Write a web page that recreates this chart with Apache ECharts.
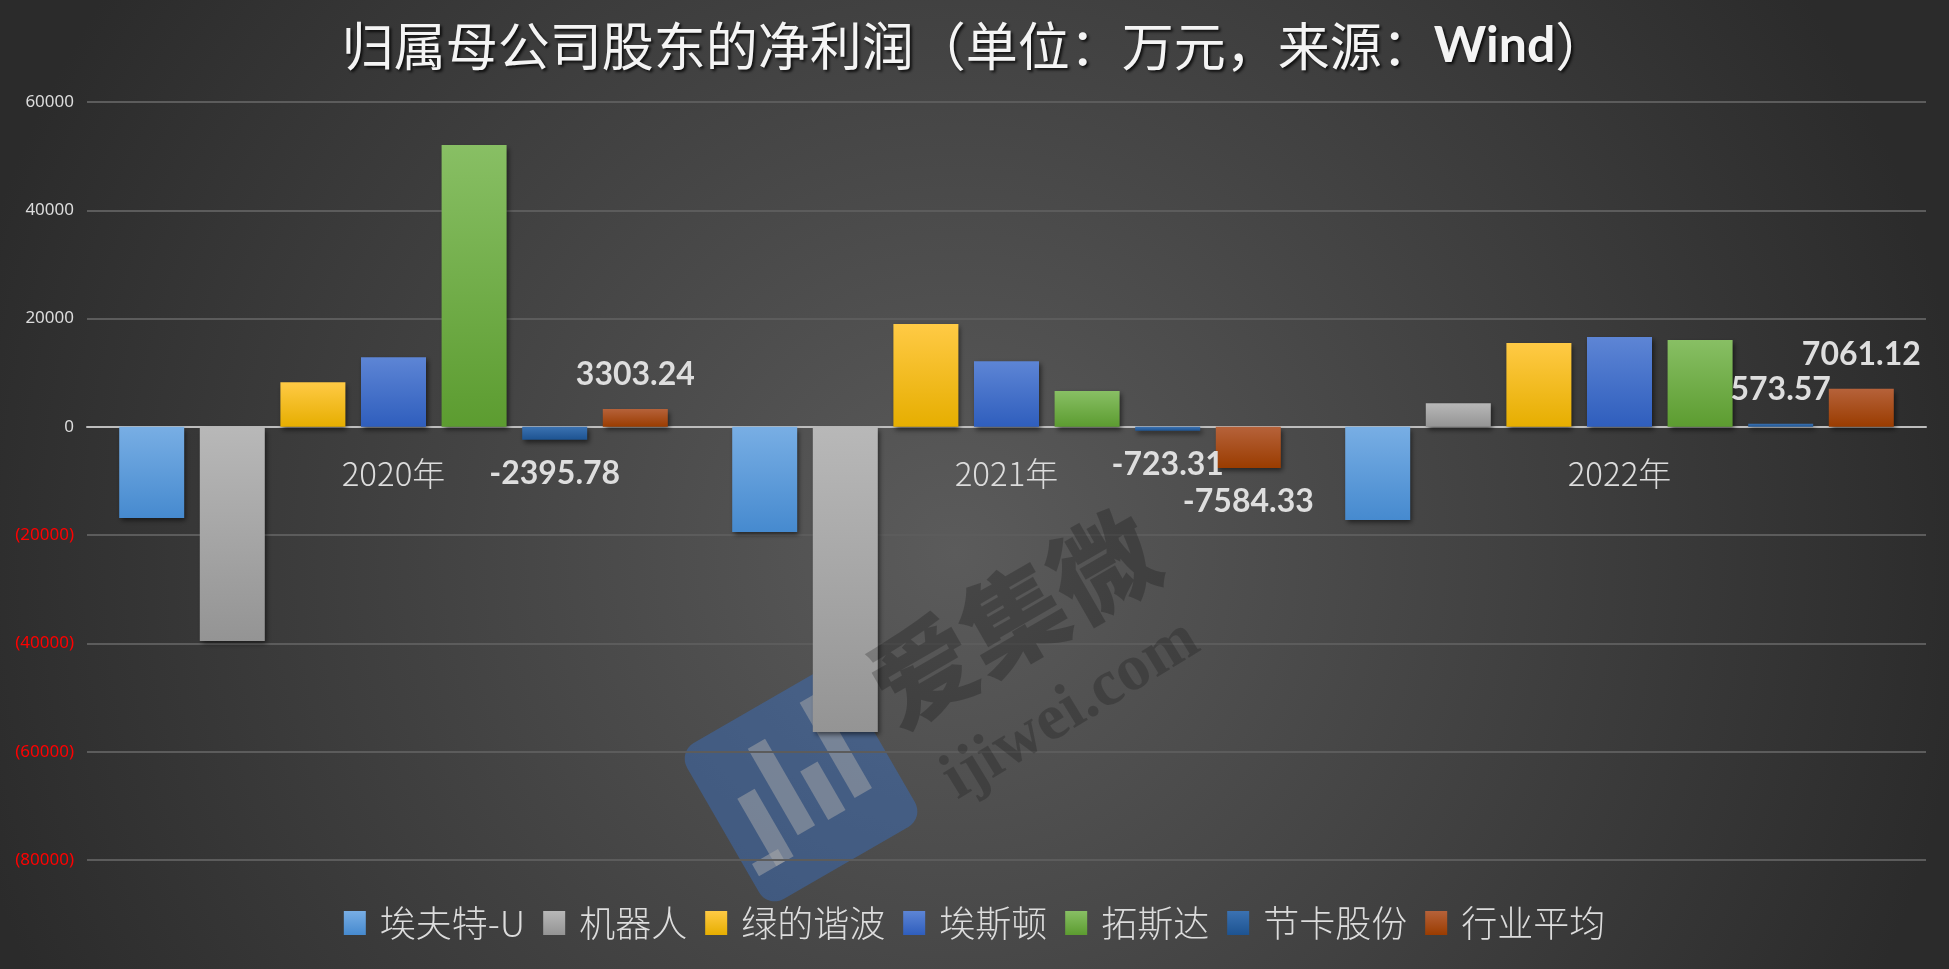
<!DOCTYPE html>
<html>
<head>
<meta charset="utf-8">
<title>归属母公司股东的净利润</title>
<script src="https://cdn.jsdelivr.net/npm/echarts@6/dist/echarts.min.js"></script>
<style>
  html, body { margin: 0; padding: 0; background: #3c3c3c; }
  #main { width: 1949px; height: 969px; }
</style>
</head>
<body>
<div id="main"></div>
<script>
// 数据（单位：万元）
var years = ['2020年', '2021年', '2022年'];
var names = ['埃夫特-U', '机器人', '绿的谐波', '埃斯顿', '拓斯达', '节卡股份', '行业平均'];
var aftData = [-16840, -19410, -17190];
var robotData = [-39540, -56380, 4380];
var leaderDriveData = [8250, 18980, 15470];
var estunData = [12850, 12140, 16580];
var topstarData = [52070, 6600, 16020];
var jakaData = [-2395.78, -723.31, 573.57];
var avgData = [3303.24, -7584.33, 7061.12];
var yMin = -80000, yMax = 60000, yStep = 20000;

// 颜色：柱子上浅下深
var topColors = ['#78aee4', '#b8b8b8', '#ffca45', '#5d85d5', '#88bf64', '#3b72b2', '#b6623a'];
var bottomColors = ['#468acf', '#949494', '#e6ae00', '#2f5ebd', '#5c9c30', '#1d5391', '#9a3c00'];

var allData = [aftData, robotData, leaderDriveData, estunData, topstarData, jakaData, avgData];
var labelShown = [false, false, false, false, false, true, true];

var gridTop = 102, gridBottom = 109, chartH = 969;
// 横轴放到 0 的位置
var plotH = chartH - gridTop - gridBottom;
var zeroOffset = -plotH * (0 - yMin) / (yMax - yMin);

var chart = echarts.init(document.getElementById('main'));

var series = [];
for (var i = 0; i < names.length; i++) {
  series.push({
    name: names[i],
    type: 'bar',
    data: allData[i],
    barWidth: 65,
    barGap: '24%',
    itemStyle: {
      color: new echarts.graphic.LinearGradient(0, 0, 0, 1, [
        { offset: 0, color: topColors[i] },
        { offset: 1, color: bottomColors[i] }
      ]),
      shadowColor: 'rgba(0,0,0,0.55)',
      shadowBlur: 5,
      shadowOffsetX: 2,
      shadowOffsetY: 3
    },
    label: {
      show: labelShown[i],
      position: 'outside',
      distance: 18,
      color: '#dedede',
      fontFamily: 'Lato, "Open Sans", sans-serif',
      fontWeight: 'bold',
      fontSize: 32,
      formatter: function (p) { return p.value; }
    }
  });
}

var option = {
  backgroundColor: new echarts.graphic.RadialGradient(0.49, 0.57, 1.05, [
    { offset: 0, color: '#5b5b5b' },
    { offset: 1, color: '#2b2b2b' }
  ]),
  animation: false,
  title: {
    text: '{a|归属母公司股东的净利润（单位：万元，来源：}{b|Wind}{a|）}',
    left: 'center',
    top: 20,
    padding: 0,
    textStyle: {
      color: '#f4f4f4',
      fontSize: 52,
      textShadowColor: 'rgba(0,0,0,0.8)',
      textShadowBlur: 3,
      textShadowOffsetX: 2,
      textShadowOffsetY: 2,
      rich: {
        a: {
          color: '#f4f4f4',
          fontFamily: '"Noto Sans CJK SC", sans-serif',
          fontWeight: 'normal',
          fontSize: 52,
          textShadowColor: 'rgba(0,0,0,0.8)',
          textShadowBlur: 3,
          textShadowOffsetX: 2,
          textShadowOffsetY: 2
        },
        b: {
          color: '#f4f4f4',
          fontFamily: 'Lato, "Open Sans", sans-serif',
          fontWeight: 'bold',
          fontSize: 50,
          textShadowColor: 'rgba(0,0,0,0.8)',
          textShadowBlur: 3,
          textShadowOffsetX: 2,
          textShadowOffsetY: 2
        }
      }
    }
  },
  legend: {
    data: names,
    left: 'center',
    top: 900,
    icon: 'rect',
    itemWidth: 22,
    itemHeight: 24,
    itemGap: 18,
    textStyle: {
      color: '#dcdcdc',
      fontFamily: '"Noto Sans CJK SC", sans-serif',
      fontWeight: 300,
      fontSize: 36,
      padding: [0, 0, 0, 9]
    }
  },
  grid: {
    left: 87,
    right: 23,
    top: gridTop,
    bottom: gridBottom,
    containLabel: false
  },
  xAxis: {
    type: 'category',
    data: years,
    offset: zeroOffset,
    axisTick: { show: false },
    axisLine: { onZero: false, lineStyle: { color: '#bdbdbd', width: 2 } },
    axisLabel: {
      margin: 30,
      color: '#dcdcdc',
      fontFamily: '"Noto Sans CJK SC", sans-serif',
      fontWeight: 300,
      fontSize: 33
    }
  },
  yAxis: {
    type: 'value',
    min: yMin,
    max: yMax,
    interval: yStep,
    axisLine: { show: false },
    axisTick: { show: false },
    splitLine: { lineStyle: { color: '#5c5c5c', width: 2 } },
    axisLabel: {
      margin: 13,
      fontFamily: '"Noto Sans", sans-serif',
      formatter: function (v) {
        return v < 0 ? '{neg|(' + (-v) + ')}' : '{pos|' + v + '}';
      },
      rich: {
        neg: { color: '#ff0000', fontSize: 17, fontFamily: '"Noto Sans", sans-serif' },
        pos: { color: '#dcdcdc', fontSize: 17, fontFamily: '"Noto Sans", sans-serif' }
      }
    }
  },
  // 水印：爱集微
  graphic: [
    {
      type: 'group',
      x: 801,
      y: 785,
      rotation: Math.PI / 6,
      z: 100,
      silent: true,
      children: [
        { type: 'rect', shape: { x: -90, y: -90, width: 180, height: 180, r: 18 }, style: { fill: 'rgba(55,115,205,0.42)' } },
        { type: 'rect', shape: { x: -62, y: -20, width: 20, height: 78 }, style: { fill: 'rgba(170,170,170,0.5)' } },
        { type: 'rect', shape: { x: -82, y: 44, width: 30, height: 14 }, style: { fill: 'rgba(170,170,170,0.5)' } },
        { type: 'rect', shape: { x: -28, y: -58, width: 20, height: 100 }, style: { fill: 'rgba(170,170,170,0.5)' } },
        { type: 'rect', shape: { x: 6, y: -12, width: 20, height: 56 }, style: { fill: 'rgba(170,170,170,0.5)' } },
        { type: 'rect', shape: { x: 40, y: -72, width: 20, height: 110 }, style: { fill: 'rgba(170,170,170,0.5)' } }
      ]
    },
    {
      type: 'text',
      x: 1013,
      y: 618,
      rotation: Math.PI / 6,
      z: 100,
      silent: true,
      style: {
        text: '爱集微',
        fill: 'rgba(0,0,0,0.22)',
        font: '900 104px "Noto Sans CJK SC", sans-serif',
        align: 'center',
        verticalAlign: 'middle'
      }
    },
    {
      type: 'text',
      x: 1071,
      y: 710,
      rotation: 0.55,
      z: 100,
      silent: true,
      style: {
        text: 'ijiwei.com',
        fill: 'rgba(0,0,0,0.2)',
        font: 'bold 66px "Liberation Serif", serif',
        align: 'center',
        verticalAlign: 'middle'
      }
    }
  ],
  series: series
};

chart.setOption(option);
</script>
</body>
</html>
